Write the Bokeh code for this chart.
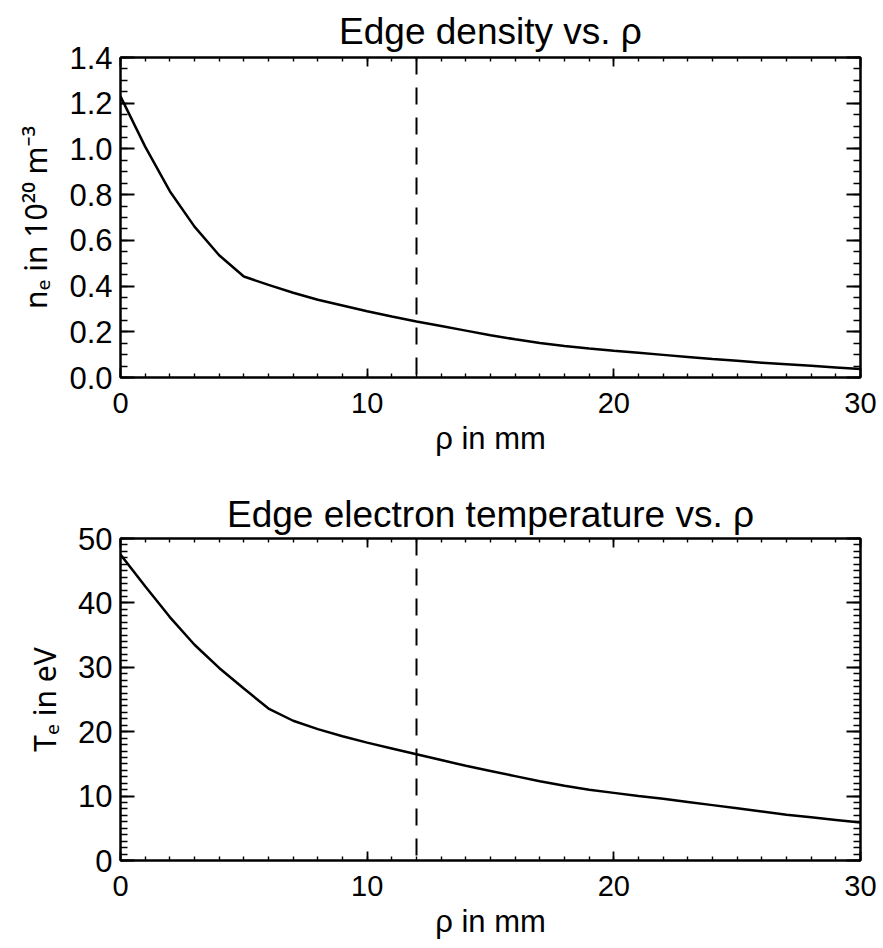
from bokeh.plotting import figure
from bokeh.models import (Range1d, SingleIntervalTicker, LinearAxis, Span,
                          PrintfTickFormatter, CustomJSTickFormatter)
from bokeh.layouts import column
from bokeh.embed import file_html
from bokeh.resources import INLINE

FONT = "Liberation Sans"

# ---- data ----
rho_mm = [0, 1, 2, 3, 4, 5, 6, 7, 8, 9, 10, 11, 12, 13, 14, 15,
          16, 17, 18, 19, 20, 21, 22, 23, 24, 25, 26, 27, 28, 29, 30]
ne_1e20 = [1.23, 1.01, 0.815, 0.66, 0.535, 0.442, 0.405, 0.371, 0.34, 0.315,
           0.29, 0.267, 0.245, 0.225, 0.205, 0.185, 0.167, 0.151, 0.138, 0.127,
           0.117, 0.108, 0.099, 0.090, 0.081, 0.073, 0.065, 0.058, 0.051, 0.044, 0.037]
te_ev = [47.5, 42.6, 37.8, 33.5, 29.9, 26.7, 23.6, 21.7, 20.4, 19.3,
         18.3, 17.4, 16.5, 15.6, 14.7, 13.9, 13.1, 12.3, 11.6, 11.0,
         10.5, 10.0, 9.6, 9.1, 8.6, 8.1, 7.6, 7.1, 6.7, 6.3, 5.9]
marker_rho = 12

titles = ["Edge density vs. \u03c1", "Edge electron temperature vs. \u03c1"]
x_label = "\u03c1 in mm"
y_labels = ["n\u2091 in 10\u00b2\u2070 m\u207b\u00b3", "T\u2091 in eV"]
x_limits = (0, 30)
y_limits = [(0, 1.4000001), (0, 50)]
y_intervals = [0.2, 10]
y_minor = [4, 10]
y_formats = ["%.1f", "%d"]


def make_plot(idx, yvals, top_border, bottom_border, title_standoff):
    p = figure(width=883, height=474, output_backend="svg", toolbar_location=None,
               x_range=Range1d(*x_limits), y_range=Range1d(*y_limits[idx]),
               min_border_left=120, min_border_right=23,
               min_border_top=top_border, min_border_bottom=bottom_border,
               background_fill_color="white", border_fill_color="white")
    p.grid.visible = False
    p.outline_line_color = "black"
    p.outline_line_width = 2
    p.title.text = titles[idx]
    p.title.align = "center"
    p.title.text_font = FONT
    p.title.text_font_size = "37px"
    p.title.text_font_style = "normal"
    p.title.text_color = "black"
    p.title.standoff = title_standoff

    xt = SingleIntervalTicker(interval=10, num_minor_ticks=10)
    yt = SingleIntervalTicker(interval=y_intervals[idx], num_minor_ticks=y_minor[idx])
    p.xaxis.ticker = xt
    p.yaxis.ticker = yt
    blank = CustomJSTickFormatter(code="return ''")
    p.add_layout(LinearAxis(ticker=xt, formatter=blank, major_label_standoff=0), "above")
    p.add_layout(LinearAxis(ticker=yt, formatter=blank, major_label_standoff=0), "right")

    for ax in p.xaxis:
        ax.major_tick_in = 9
        ax.minor_tick_in = 4
    for ax in p.yaxis:
        ax.major_tick_in = 14
        ax.minor_tick_in = 7
    for ax in p.axis:
        ax.major_tick_out = 0
        ax.minor_tick_out = 0
        ax.axis_line_color = "black"
        ax.axis_line_width = 2
        ax.major_tick_line_color = "black"
        ax.major_tick_line_width = 1.8
        ax.minor_tick_line_color = "black"
        ax.minor_tick_line_width = 1.4
        ax.major_label_text_font = FONT
        ax.major_label_text_color = "black"
        ax.axis_label_text_font = FONT
        ax.axis_label_text_font_style = "normal"
        ax.axis_label_text_color = "black"
        ax.axis_label_text_font_size = "31px"

    bx = p.below[0]
    bx.axis_label = x_label
    bx.major_label_text_font_size = "29px"
    bx.major_label_standoff = 15
    bx.axis_label_standoff = 5

    ly = p.left[0]
    ly.axis_label = y_labels[idx]
    ly.axis_label_text_font = "Noto Sans"
    ly.axis_label_text_font_size = "30px"
    ly.major_label_text_font_size = "31px"
    ly.major_label_standoff = 8
    ly.axis_label_standoff = 10
    ly.formatter = PrintfTickFormatter(format=y_formats[idx])

    p.add_layout(Span(location=marker_rho, dimension="height", line_color="black",
                      line_width=2, line_dash="17 13"))
    p.line(rho_mm, yvals, line_color="black", line_width=2.5)
    return p


p1 = make_plot(0, ne_1e20, 57, 97, 11)
p2 = make_plot(1, te_ev, 64, 88, 8)

layout = column(p1, p2, spacing=0)
open("out.html", "w").write(file_html(layout, INLINE))
